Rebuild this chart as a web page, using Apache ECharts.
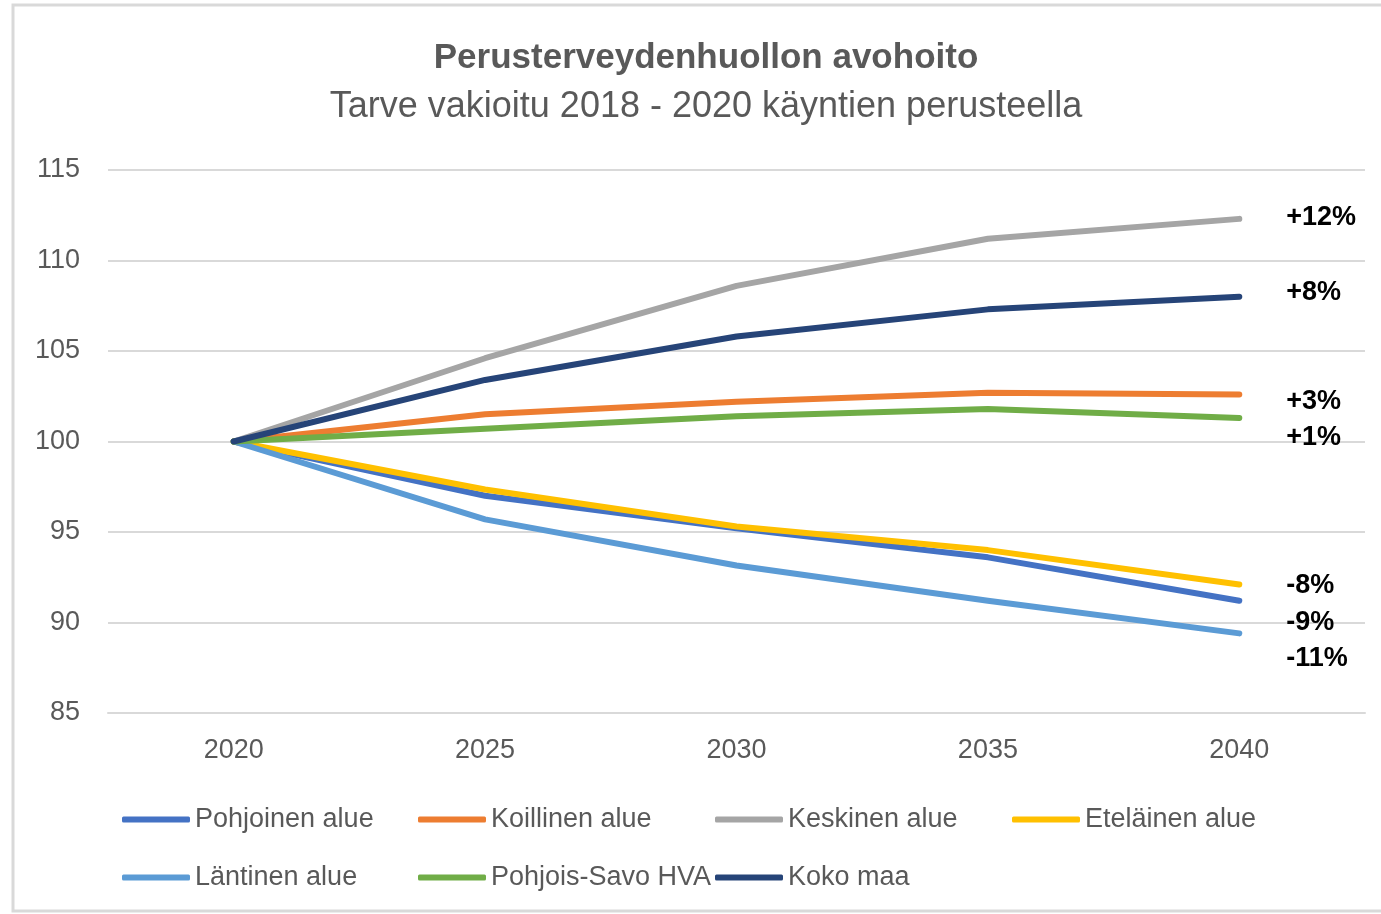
<!DOCTYPE html>
<html><head><meta charset="utf-8">
<script src="https://cdn.jsdelivr.net/npm/echarts@6/dist/echarts.min.js"></script>
<style>html,body{margin:0;padding:0;background:#fff}#c{width:1381px;height:914px}</style>
</head><body><div id="c"></div>
<script>
const categories = ['2020','2025','2030','2035','2040'];
const seriesNames = ['Pohjoinen alue','Koillinen alue','Keskinen alue','Eteläinen alue','Läntinen alue','Pohjois-Savo HVA','Koko maa'];
const pohjoinen   = [100, 97.0, 95.2, 93.6, 91.2];
const koillinen   = [100, 101.5, 102.2, 102.7, 102.6];
const keskinen    = [100, 104.6, 108.6, 111.2, 112.3];
const etelainen   = [100, 97.35, 95.3, 94.0, 92.1];
const lantinen    = [100, 95.7, 93.15, 91.2, 89.4];
const pohjoisSavo = [100, 100.7, 101.4, 101.8, 101.3];
const kokoMaa     = [100, 103.4, 105.8, 107.3, 108.0];
const changeLabels = ['-9%','+3%','+12%','-8%','-11%','+1%','+8%'];
const yTicks = [85, 90, 95, 100, 105, 110, 115];

const colors = ['#4472C4','#ED7D31','#A5A5A5','#FFC000','#5B9BD5','#70AD47','#264478'];
const labelDy = [22, 7, -1, 1, 25, 20, -4];
const values = [pohjoinen, koillinen, keskinen, etelainen, lantinen, pohjoisSavo, kokoMaa];
const font = 'Liberation Sans';
const legendCols = [122, 418, 715, 1012];
const legendRows = [806, 864];

const chart = echarts.init(document.getElementById('c'));
chart.setOption({
  backgroundColor: '#fff',
  animation: false,
  title: [
    {text: 'Perusterveydenhuollon avohoito', left: 701, top: 36, textAlign: 'center',
     textStyle: {fontFamily: font, fontSize: 35, fontWeight: 'bold', color: '#595959'}},
    {text: 'Tarve vakioitu 2018 - 2020 käyntien perusteella', left: 701, top: 84, textAlign: 'center',
     textStyle: {fontFamily: font, fontSize: 36, fontWeight: 'normal', color: '#595959'}}
  ],
  graphic: [{type: 'rect', shape: {x: 13, y: 5, width: 1380, height: 906},
    style: {fill: 'none', stroke: '#D9D9D9', lineWidth: 3}, silent: true}],
  grid: {left: 108, right: 16, top: 170, bottom: 201},
  xAxis: {type: 'category', data: categories, boundaryGap: true,
    axisLine: {show: true, lineStyle: {color: '#D9D9D9', width: 2}},
    axisTick: {show: false},
    axisLabel: {fontFamily: font, fontSize: 27, color: '#595959', margin: 24}},
  yAxis: {type: 'value', min: yTicks[0], max: yTicks[yTicks.length-1], interval: 5,
    axisLine: {show: false}, axisTick: {show: false},
    splitLine: {lineStyle: {color: '#D9D9D9', width: 2}},
    axisLabel: {fontFamily: font, fontSize: 27, color: '#595959', margin: 28}},
  legend: seriesNames.map((n, i) => ({
    data: [n], left: legendCols[i % 4], top: legendRows[Math.floor(i / 4)], padding: 0,
    itemWidth: 68, itemHeight: 6, icon: 'roundRect',
    textStyle: {fontFamily: font, fontSize: 27, color: '#595959'}
  })),
  series: seriesNames.map((n, i) => ({
    name: n, type: 'line', data: values[i], showSymbol: false, symbol: 'none',
    color: colors[i],
    lineStyle: {width: 6, color: colors[i], cap: 'round', join: 'round'},
    endLabel: {show: true, formatter: changeLabels[i], offset: [39, labelDy[i]],
      fontFamily: font, fontSize: 27, fontWeight: 'bold', color: '#000'}
  }))
});
</script></body></html>
